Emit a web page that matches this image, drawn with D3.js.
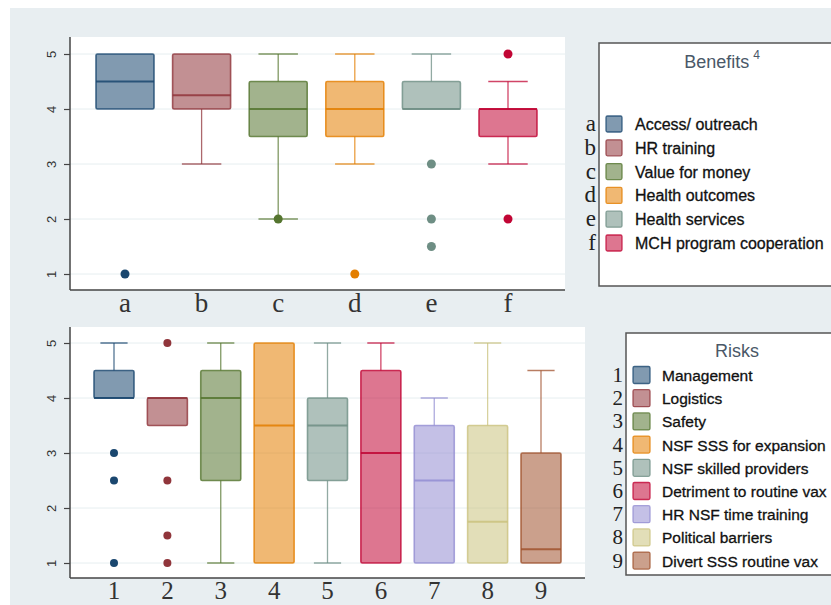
<!DOCTYPE html>
<html>
<head>
<meta charset="utf-8">
<script src="https://cdn.jsdelivr.net/npm/d3@7"></script>
<style>
  body { margin: 0; background: #fff; }
  svg { display: block; }
</style>
</head>
<body>
<div id="chart"></div>
<script>
// benefits panel
const benefitKeys = ["a", "b", "c", "d", "e", "f"];
const benefitNames = ["Access/ outreach", "HR training", "Value for money", "Health outcomes", "Health services", "MCH program cooperation"];
const benefitLow = [4, 3, 2, 3, 4, 3];
const benefitQ1 = [4, 4, 3.5, 3.5, 4, 3.5];
const benefitMed = [4.5, 4.25, 4, 4, 4, 4];
const benefitQ3 = [5, 5, 4.5, 4.5, 4.5, 4];
const benefitHigh = [5, 5, 5, 5, 5, 4.5];
const benefitOut = [[1], [], [2], [1], [3, 2, 1.5], [5, 2]];

// risks panel
const riskKeys = ["1", "2", "3", "4", "5", "6", "7", "8", "9"];
const riskNames = ["Management", "Logistics", "Safety", "NSF SSS for expansion", "NSF skilled providers", "Detriment to routine vax", "HR NSF time training", "Political barriers", "Divert SSS routine vax"];
const riskLow = [4, 3.5, 1, 1, 1, 1, 1, 1, 1];
const riskQ1 = [4, 3.5, 2.5, 1, 2.5, 1, 1, 1, 1];
const riskMed = [4, 4, 4, 3.5, 3.5, 3, 2.5, 1.75, 1.25];
const riskQ3 = [4.5, 4, 4.5, 5, 4, 4.5, 3.5, 3.5, 3];
const riskHigh = [5, 4, 5, 5, 5, 5, 4, 5, 4.5];
const riskOut = [[3, 2.5, 1], [5, 2.5, 1.5, 1], [], [], [], [], [], [], []];

const yTicks = [1, 2, 3, 4, 5];

// stata s2color-ish
const colors = ["#1a476f", "#90353b", "#55752f", "#e37e00", "#6e8e84", "#c10534", "#938dd2", "#cac27e", "#a0522d"];

const W = 831, H = 605;
const svg = d3.select("#chart").append("svg")
  .attr("width", W).attr("height", H);

svg.append("rect")
  .attr("x", 10).attr("y", 8)
  .attr("width", W - 10).attr("height", H - 8)
  .attr("fill", "#e8eef1");

function panel(p) {
  const rows = p.keys.map((k, i) => ({
    key: k, name: p.names[i], lo: p.low[i], q1: p.q1[i], med: p.med[i],
    q3: p.q3[i], hi: p.high[i], out: p.out[i], color: colors[i]
  }));

  const x = d3.scalePoint().domain(p.keys).range(p.xRange);
  const y = d3.scaleLinear().domain([1, 5]).range(p.yRange);

  const g = svg.append("g");

  // plot area
  g.append("rect")
    .attr("x", p.left).attr("y", p.top)
    .attr("width", p.right - p.left).attr("height", p.bottom - p.top)
    .attr("fill", "#fff");

  g.append("g")
    .selectAll("line")
    .data(yTicks)
    .enter()
    .append("line")
    .attr("x1", p.left).attr("x2", p.right)
    .attr("y1", d => y(d)).attr("y2", d => y(d))
    .attr("stroke", "#e6eef0").attr("stroke-width", 1);

  const box = g.append("g")
    .selectAll(".box")
    .data(rows)
    .enter()
    .append("g")
    .attr("class", "box");

  const bw = p.boxWidth;
  const cap = bw * 0.68;

  box.append("line")
    .attr("x1", d => x(d.key)).attr("x2", d => x(d.key))
    .attr("y1", d => y(d.q3)).attr("y2", d => y(d.hi))
    .attr("stroke", d => d.color).attr("stroke-opacity", 0.75).attr("stroke-width", 1.3);
  box.append("line")
    .attr("x1", d => x(d.key)).attr("x2", d => x(d.key))
    .attr("y1", d => y(d.q1)).attr("y2", d => y(d.lo))
    .attr("stroke", d => d.color).attr("stroke-opacity", 0.75).attr("stroke-width", 1.3);
  box.filter(d => d.hi > d.q3).append("line")
    .attr("x1", d => x(d.key) - cap / 2).attr("x2", d => x(d.key) + cap / 2)
    .attr("y1", d => y(d.hi)).attr("y2", d => y(d.hi))
    .attr("stroke", d => d.color).attr("stroke-opacity", 0.75).attr("stroke-width", 1.5);
  box.filter(d => d.lo < d.q1).append("line")
    .attr("x1", d => x(d.key) - cap / 2).attr("x2", d => x(d.key) + cap / 2)
    .attr("y1", d => y(d.lo)).attr("y2", d => y(d.lo))
    .attr("stroke", d => d.color).attr("stroke-opacity", 0.75).attr("stroke-width", 1.5);

  box.append("rect")
    .attr("x", d => x(d.key) - bw / 2)
    .attr("y", d => y(d.q3))
    .attr("width", bw)
    .attr("height", d => y(d.q1) - y(d.q3))
    .attr("rx", 1.5)
    .attr("fill", d => d.color).attr("fill-opacity", 0.55)
    .attr("stroke", d => d.color).attr("stroke-opacity", 0.8).attr("stroke-width", 1.6);

  box.append("line")
    .attr("x1", d => x(d.key) - bw / 2).attr("x2", d => x(d.key) + bw / 2)
    .attr("y1", d => y(d.med)).attr("y2", d => y(d.med))
    .attr("stroke", d => d.color).attr("stroke-opacity", 0.85).attr("stroke-width", 1.8);

  box.selectAll("circle")
    .data(d => d.out.map(v => ({ v, key: d.key, color: d.color })))
    .enter()
    .append("circle")
    .attr("cx", d => x(d.key)).attr("cy", d => y(d.v))
    .attr("r", p.dot)
    .attr("fill", d => d.color);

  // axes
  const ya = g.append("g")
    .attr("transform", `translate(${p.left},0)`)
    .call(d3.axisLeft(y).tickValues(yTicks).tickSize(6).tickFormat(d3.format("d")));
  ya.select(".domain").remove();
  ya.selectAll(".tick line").attr("stroke", "#444").attr("stroke-width", 1.2);
  ya.selectAll("text")
    .attr("transform", "rotate(-90)")
    .attr("x", 0).attr("y", -14).attr("dy", 0)
    .style("text-anchor", "middle")
    .style("font-family", "Liberation Sans, Arial, sans-serif")
    .style("font-size", "13px")
    .attr("fill", "#333");

  g.append("line")
    .attr("x1", p.left).attr("x2", p.left)
    .attr("y1", p.top).attr("y2", p.bottom)
    .attr("stroke", "#444").attr("stroke-width", 1.5);
  g.append("line")
    .attr("x1", p.left).attr("x2", p.right)
    .attr("y1", p.bottom).attr("y2", p.bottom)
    .attr("stroke", "#444").attr("stroke-width", 1.5);

  g.append("g")
    .selectAll("text")
    .data(p.keys)
    .enter()
    .append("text")
    .attr("x", d => x(d)).attr("y", p.labelY)
    .attr("text-anchor", "middle")
    .style("font-family", "Liberation Serif, Times New Roman, serif")
    .style("font-size", p.labelSize + "px")
    .attr("fill", "#333")
    .text(d => d);

  // legend
  const lg = g.append("g");
  lg.append("rect")
    .attr("x", p.legX).attr("y", p.legTop)
    .attr("width", W - p.legX + 10).attr("height", p.legBottom - p.legTop)
    .attr("fill", "#fff")
    .attr("stroke", "#555").attr("stroke-width", 1.5);

  const title = lg.append("text")
    .attr("x", p.titleX).attr("y", p.titleY)
    .attr("text-anchor", "middle")
    .style("font-family", "Liberation Sans, Arial, sans-serif")
    .style("font-size", "18px")
    .attr("fill", "#4a5868")
    .text(p.title);
  if (p.sup) {
    title.append("tspan")
      .attr("dx", 4).attr("dy", -9)
      .style("font-size", "12px")
      .text(p.sup);
  }

  const item = lg.selectAll(".item")
    .data(rows)
    .enter()
    .append("g")
    .attr("class", "item")
    .attr("transform", (d, i) => `translate(0,${p.legY0 + i * p.legStep})`);

  item.append("text")
    .attr("x", p.legX - 3).attr("y", 7)
    .attr("text-anchor", "end")
    .style("font-family", "Liberation Serif, Times New Roman, serif")
    .style("font-size", p.keySize + "px")
    .attr("fill", "#222")
    .text(d => d.key);

  item.append("rect")
    .attr("x", p.legX + 7).attr("y", -p.sw / 2)
    .attr("width", p.sw).attr("height", p.sw)
    .attr("rx", 1.5)
    .attr("fill", d => d.color).attr("fill-opacity", 0.55)
    .attr("stroke", d => d.color).attr("stroke-opacity", 0.8).attr("stroke-width", 1.3);

  item.append("text")
    .attr("x", p.legX + 36).attr("y", 6)
    .style("font-family", "Liberation Sans, Arial, sans-serif")
    .style("font-size", p.legFont + "px")
    .attr("fill", "#111")
    .attr("stroke", "#111").attr("stroke-width", 0.3)
    .text(d => d.name);
}

panel({
  keys: benefitKeys, names: benefitNames, low: benefitLow, q1: benefitQ1, med: benefitMed,
  q3: benefitQ3, high: benefitHigh, out: benefitOut,
  xRange: [125, 508], yRange: [274, 54],
  left: 70, right: 565, top: 37, bottom: 290,
  boxWidth: 58, dot: 4.5, labelY: 312, labelSize: 27,
  legX: 599, legTop: 43, legBottom: 286,
  title: "Benefits", sup: "4", titleX: 722, titleY: 68,
  legY0: 124, legStep: 23.8, sw: 16, legFont: 16, keySize: 23
});

panel({
  keys: riskKeys, names: riskNames, low: riskLow, q1: riskQ1, med: riskMed,
  q3: riskQ3, high: riskHigh, out: riskOut,
  xRange: [114, 541], yRange: [563, 343],
  left: 70, right: 585, top: 327, bottom: 578,
  boxWidth: 40, dot: 4, labelY: 599, labelSize: 25,
  legX: 626, legTop: 333, legBottom: 575,
  title: "Risks", sup: null, titleX: 737, titleY: 357,
  legY0: 375, legStep: 23.2, sw: 17, legFont: 15.5, keySize: 21
});
</script>
</body>
</html>
